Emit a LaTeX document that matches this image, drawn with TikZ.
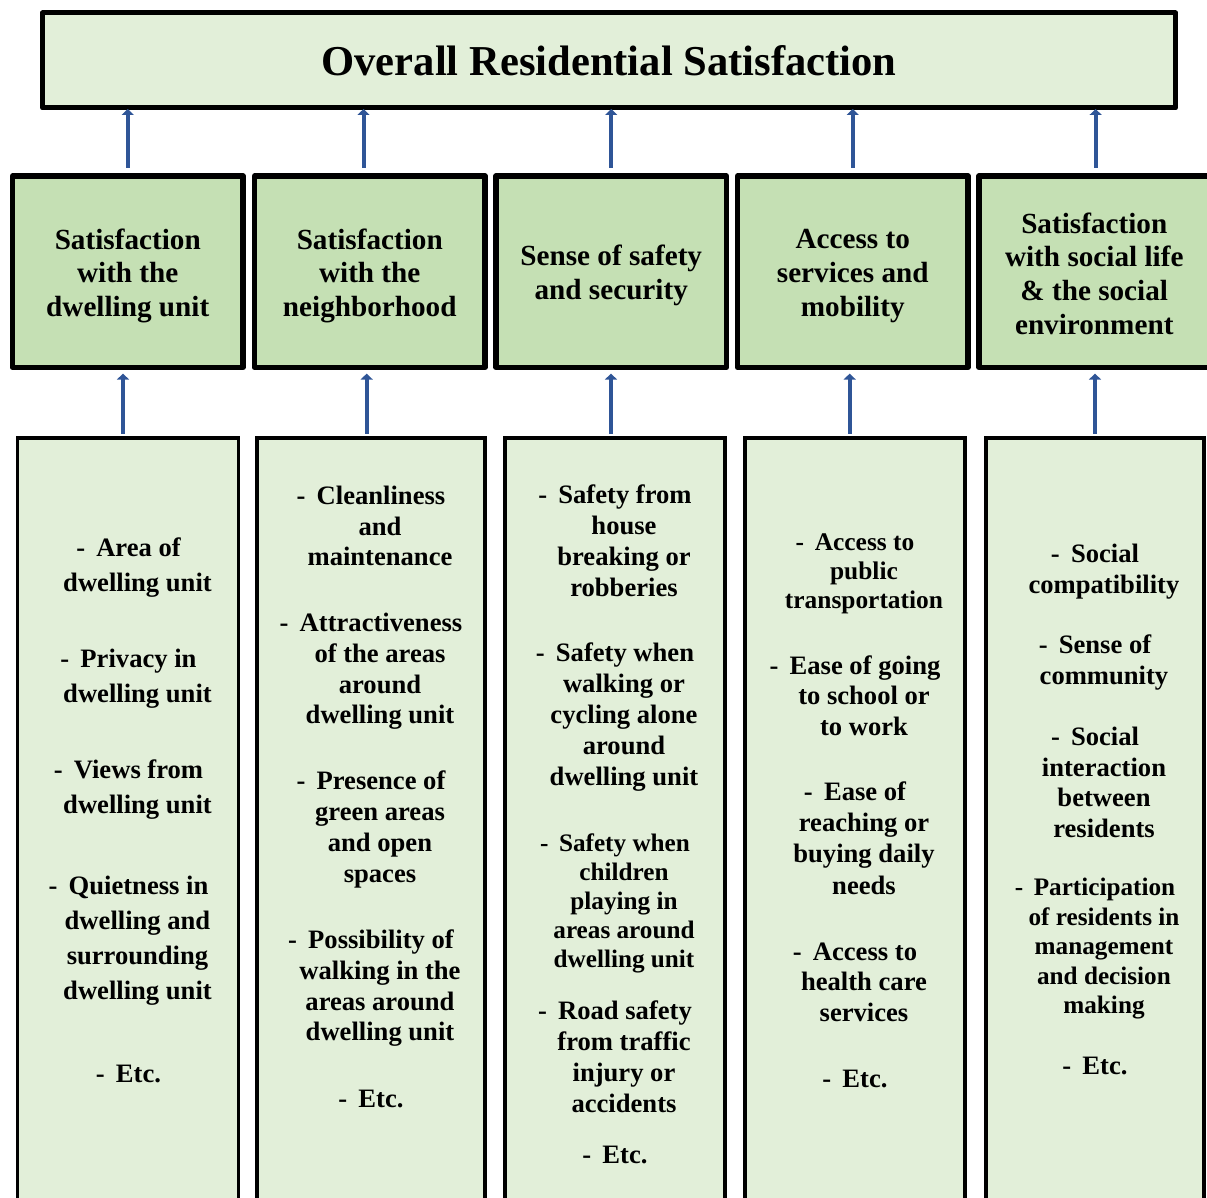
\documentclass[tikz,border=0pt]{standalone}
\usepackage{fontspec}
\setmainfont{Liberation Serif}
\usetikzlibrary{arrows.meta}
\definecolor{lightg}{HTML}{E2EFD9}
\definecolor{midg}{HTML}{C5E0B4}
\definecolor{arrblue}{HTML}{2F5597}
\newcommand{\hind}{\hspace*{9pt}}
\newcommand{\dsh}{-\hspace{0.42em}}
\tikzset{
  topbox/.style={draw, line width=2.5pt, line join=round, fill=lightg, minimum width=566.5pt, minimum height=47.5pt, inner sep=0pt, font=\bfseries\fontsize{21.3}{25}\selectfont},
  midbox/.style={draw, line width=2.6pt, line join=round, fill=midg, minimum width=115.25pt, minimum height=95.75pt, inner sep=0pt},
  mtext/.style={align=center, inner sep=0pt, font=\bfseries\fontsize{14.6}{16.9}\selectfont},
  botbox/.style={draw, line width=1.7pt, fill=lightg, minimum height=391pt, inner sep=0pt},
  arr/.style={draw=arrblue, line width=2pt, -{Triangle[width=6pt,length=3pt]}},
  it/.style 2 args={align=center, inner sep=0pt, font=\bfseries\fontsize{#1}{#2}\selectfont}
}
\begin{document}
\begin{tikzpicture}[x=0.5pt,y=-0.5pt]
\useasboundingbox (0,0) rectangle (1207,1198);
\clip (0,0) rectangle (1207,1198);
% top
\node[topbox] (top) at (609,60.5) {Overall Residential Satisfaction};
% middle boxes
\node[midbox] (m1) at (127.75,271.75) {};
\node[midbox] (m2) at (369.75,271.75) {};
\node[midbox] (m3) at (611.25,271.75) {};
\node[midbox] (m4) at (852.75,271.75) {};
\node[midbox] (m5) at (1094.25,271.75) {};
\node[mtext] (t1) at ([yshift=-2pt]m1.center) {Satisfaction\\with the\\dwelling unit};
\node[mtext] (t2) at ([yshift=-2pt]m2.center) {Satisfaction\\with the\\neighborhood};
\node[mtext] (t3) at ([yshift=-2pt]m3.center) {Sense of safety\\and security};
\node[mtext] (t4) at ([yshift=-2pt]m4.center) {Access to\\services and\\mobility};
\node[mtext] (t5) at ([yshift=-1pt]m5.center) {Satisfaction\\with social life\\\& the social\\environment};
% bottom boxes
\node[botbox, minimum width=110.5pt] (b1) at (128,829) {};
\node[botbox, minimum width=114pt] (b2) at (371,829) {};
\node[botbox, minimum width=110pt] (b3) at (615,829) {};
\node[botbox, minimum width=110pt] (b4) at (855,829) {};
\node[botbox, minimum width=109pt] (b5) at (1095,829) {};
% box 1 items
\node[it={13.3}{17.5}] (b1i1) at (128.5,567.5) {\dsh Area of\\\hind dwelling unit};
\node[it={13.3}{17.5}] (b1i2) at (128.5,678.5) {\dsh Privacy in\\\hind dwelling unit};
\node[it={13.3}{17.5}] (b1i3) at (128.5,789.5) {\dsh Views from\\\hind dwelling unit};
\node[it={13.3}{17.5}] (b1i4) at (128.5,941) {\dsh Quietness in\\\hind dwelling and\\\hind surrounding\\\hind dwelling unit};
\node[it={13.3}{17.5}] (b1i5) at (128.5,1074) {\dsh Etc.};
% box 2 items
\node[it={13.3}{15.35}] (b2i1) at (371,526) {\dsh Cleanliness\\\hind and\\\hind maintenance};
\node[it={13.3}{15.35}] (b2i2) at (371,671.5) {\dsh Attractiveness\\\hind of the areas\\\hind around\\\hind dwelling unit};
\node[it={13.3}{15.35}] (b2i3) at (371,829.5) {\dsh Presence of\\\hind green areas\\\hind and open\\\hind spaces};
\node[it={13.3}{15.35}] (b2i4) at (371,988.5) {\dsh Possibility of\\\hind walking in the\\\hind areas around\\\hind dwelling unit};
\node[it={13.3}{15.35}] (b2i5) at (371,1099) {\dsh Etc.};
% box 3 items
\node[it={13.3}{15.5}] (b3i1) at (615,541) {\dsh Safety from\\\hind house\\\hind breaking or\\\hind robberies};
\node[it={13.3}{15.4}] (b3i2) at (615,717) {\dsh Safety when\\\hind walking or\\\hind cycling alone\\\hind around\\\hind dwelling unit};
\node[it={12.6}{14.6}] (b3i3) at (615,903.5) {\dsh Safety when\\\hind children\\\hind playing in\\\hind areas around\\\hind dwelling unit};
\node[it={13.3}{15.5}] (b3i4) at (615,1056.5) {\dsh Road safety\\\hind from traffic\\\hind injury or\\\hind accidents};
\node[it={13.3}{15.5}] (b3i5) at (615,1155) {\dsh Etc.};
% box 4 items
\node[it={12.7}{14.5}] (b4i1) at (855,573.5) {\dsh Access to\\\hind public\\\hind transportation};
\node[it={13.3}{15.25}] (b4i2) at (855,695.5) {\dsh Ease of going\\\hind to school or\\\hind to work};
\node[it={13.3}{15.65}] (b4i3) at (855,838) {\dsh Ease of\\\hind reaching or\\\hind buying daily\\\hind needs};
\node[it={13.3}{15.25}] (b4i4) at (855,982) {\dsh Access to\\\hind health care\\\hind services};
\node[it={13.3}{15.25}] (b4i5) at (855,1079) {\dsh Etc.};
% box 5 items
\node[it={13.3}{15.5}] (b5i1) at (1095,571.5) {\dsh Social\\\hind compatibility};
\node[it={13.3}{15.5}] (b5i2) at (1095,662.5) {\dsh Sense of\\\hind community};
\node[it={13.3}{15.35}] (b5i3) at (1095,782.5) {\dsh Social\\\hind interaction\\\hind between\\\hind residents};
\node[it={12.6}{14.75}] (b5i4) at (1095,949) {\dsh Participation\\\hind of residents in\\\hind management\\\hind and decision\\\hind making};
\node[it={13.3}{15.5}] (b5i5) at (1095,1066) {\dsh Etc.};
% arrows middle -> top
\draw[arr, shorten <=2.75pt, shorten >=-0.75pt] (m1.north) -- (m1.north |- top.south);
\draw[arr, shorten <=2.75pt, shorten >=-0.75pt] ([xshift=-3.1pt]m2.north) -- ([xshift=-3.1pt]m2.north |- top.south);
\draw[arr, shorten <=2.75pt, shorten >=-0.75pt] (m3.north) -- (m3.north |- top.south);
\draw[arr, shorten <=2.75pt, shorten >=-0.75pt] (m4.north) -- (m4.north |- top.south);
\draw[arr, shorten <=2.75pt, shorten >=-0.75pt] ([xshift=0.7pt]m5.north) -- ([xshift=0.7pt]m5.north |- top.south);
% arrows bottom -> middle
\draw[arr, shorten <=1.25pt, shorten >=1.75pt] ([xshift=-2.5pt]b1.north) -- ([xshift=-2.5pt]b1.north |- m1.south);
\draw[arr, shorten <=1.25pt, shorten >=1.75pt] ([xshift=-2.15pt]b2.north) -- ([xshift=-2.15pt]b2.north |- m2.south);
\draw[arr, shorten <=1.25pt, shorten >=1.75pt] ([xshift=-2pt]b3.north) -- ([xshift=-2pt]b3.north |- m3.south);
\draw[arr, shorten <=1.25pt, shorten >=1.75pt] ([xshift=-2.65pt]b4.north) -- ([xshift=-2.65pt]b4.north |- m4.south);
\draw[arr, shorten <=1.25pt, shorten >=1.75pt] (b5.north) -- (b5.north |- m5.south);
\end{tikzpicture}
\end{document}
